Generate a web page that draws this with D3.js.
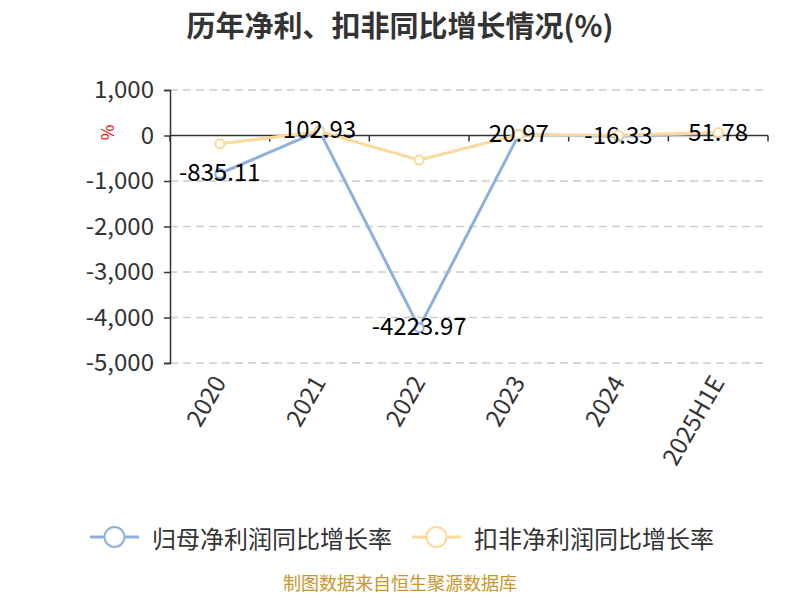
<!DOCTYPE html>
<html>
<head>
<meta charset="utf-8">
<script src="https://cdn.jsdelivr.net/npm/d3@7"></script>
<style>
  body { margin: 0; background: #fff; }
  svg { display: block; font-family: "Noto Sans CJK SC", "Noto Sans", sans-serif; }
</style>
</head>
<body>
<svg id="chart" width="800" height="600"></svg>
<script>
var categories = ["2020", "2021", "2022", "2023", "2024", "2025H1E"];
var netGrowth = [-835.11, 102.93, -4223.97, 20.97, -16.33, 51.78];
var deductGrowth = [-184, 89, -540, 15, 8, 65];
var yTicks = [1000, 0, -1000, -2000, -3000, -4000, -5000];
var seriesNames = ["归母净利润同比增长率", "扣非净利润同比增长率"];
var colors = ["#8fb0dd", "#fdd89b"];

var svg = d3.select("#chart"),
	margin = {top: 90, right: 32, bottom: 237, left: 170},
	width = +svg.attr("width"),
	height = +svg.attr("height");

var xScale = d3.scaleBand()
	.domain(categories)
	.range([margin.left, width - margin.right]);

var yScale = d3.scaleLinear()
	.domain([-5000, 1000])
	.range([height - margin.bottom, margin.top]);

// plain hyphen for negatives, like the original
var fmt = d => d3.format(",")(d).replace("−", "-");

// title
svg.append("text")
	.attr("x", 400)
	.attr("y", 24)
	.attr("text-anchor", "middle")
	.attr("dominant-baseline", "central")
	.attr("font-size", "29px")
	.attr("font-weight", "bold")
	.attr("fill", "#333")
	.text("历年净利、扣非同比增长情况(%)");

// grid lines
svg.append("g")
	.selectAll("line")
	.data(yTicks.filter(d => d != 0))
	.enter()
	.append("line")
	.attr("x1", margin.left)
	.attr("x2", width - margin.right)
	.attr("y1", d => yScale(d))
	.attr("y2", d => yScale(d))
	.attr("stroke", "#ccc")
	.attr("stroke-width", 1.5)
	.attr("stroke-dasharray", "8,5");

// y axis
var yAxis = svg.append("g")
	.attr("transform", `translate(${margin.left},0)`)
	.call(d3.axisLeft(yScale).tickValues(yTicks).tickSize(6).tickPadding(10).tickFormat(fmt));
yAxis.select(".domain").attr("stroke", "#333").attr("stroke-width", 1.5);
yAxis.selectAll(".tick line").attr("stroke", "#333").attr("stroke-width", 1.5);
yAxis.selectAll(".tick text")
	.attr("font-size", "24px")
	.attr("fill", "#333")
	.attr("font-family", "'Noto Sans CJK SC', sans-serif");

// unit label
svg.append("text")
	.attr("transform", `translate(106,${yScale(0) - 3}) rotate(-90)`)
	.attr("text-anchor", "middle")
	.attr("dominant-baseline", "central")
	.attr("font-size", "17px")
	.attr("fill", "#e00")
	.text("%");

// x axis on zero
var xAxis = svg.append("g")
	.attr("transform", `translate(0,${yScale(0)})`);
xAxis.append("line")
	.attr("x1", margin.left)
	.attr("x2", width - margin.right)
	.attr("stroke", "#333")
	.attr("stroke-width", 1.5);
var bounds = categories.map(c => xScale(c)).concat([xScale.range()[1]]);
xAxis.selectAll(".xtick")
	.data(bounds)
	.enter()
	.append("line")
	.attr("class", "xtick")
	.attr("x1", d => d)
	.attr("x2", d => d)
	.attr("y1", 0)
	.attr("y2", 6)
	.attr("stroke", "#333")
	.attr("stroke-width", 1.5);

// x labels at bottom
svg.append("g")
	.selectAll("text")
	.data(categories)
	.enter()
	.append("text")
	.attr("transform", d => `translate(${xScale(d) + xScale.bandwidth() / 2 - 2},${yScale(-5000) + 14}) rotate(-60)`)
	.attr("text-anchor", "end")
	.attr("dominant-baseline", "central")
	.attr("font-size", "24px")
	.attr("fill", "#333")
	.text(d => d);

var cx = d => xScale(d) + xScale.bandwidth() / 2;
var line = d3.line()
	.x((d, i) => cx(categories[i]))
	.y(d => yScale(d));

[netGrowth, deductGrowth].forEach((series, k) => {
	svg.append("path")
		.datum(series)
		.attr("fill", "none")
		.attr("stroke", colors[k])
		.attr("stroke-width", 3)
		.attr("d", line);
});

[netGrowth, deductGrowth].forEach((series, k) => {
	svg.append("g")
		.selectAll("circle")
		.data(series)
		.enter()
		.append("circle")
		.attr("cx", (d, i) => cx(categories[i]))
		.attr("cy", d => yScale(d))
		.attr("r", 4.5)
		.attr("fill", "#fff")
		.attr("stroke", colors[k])
		.attr("stroke-width", 2);
});

// value labels
svg.append("g")
	.selectAll("text")
	.data(netGrowth)
	.enter()
	.append("text")
	.attr("x", (d, i) => cx(categories[i]))
	.attr("y", d => yScale(d) - 3)
	.attr("text-anchor", "middle")
	.attr("dominant-baseline", "central")
	.attr("font-size", "24px")
	.attr("fill", "#000")
	.text(d => d);

// legend
var legendX = [90, 412];
seriesNames.forEach((name, i) => {
	var g = svg.append("g").attr("transform", `translate(${legendX[i]},537)`);
	g.append("line")
		.attr("x1", 0).attr("x2", 49)
		.attr("stroke", colors[i])
		.attr("stroke-width", 3);
	g.append("circle")
		.attr("cx", 24.5)
		.attr("r", 10)
		.attr("fill", "#fff")
		.attr("stroke", colors[i])
		.attr("stroke-width", 2);
	g.append("text")
		.attr("x", 62)
		.attr("dominant-baseline", "central")
		.attr("font-size", "24px")
		.attr("fill", "#333")
		.text(name);
});

// source
svg.append("text")
	.attr("x", 400)
	.attr("y", 590)
	.attr("text-anchor", "middle")
	.attr("font-size", "18px")
	.attr("fill", "#c9952b")
	.text("制图数据来自恒生聚源数据库");
</script>
</body>
</html>
